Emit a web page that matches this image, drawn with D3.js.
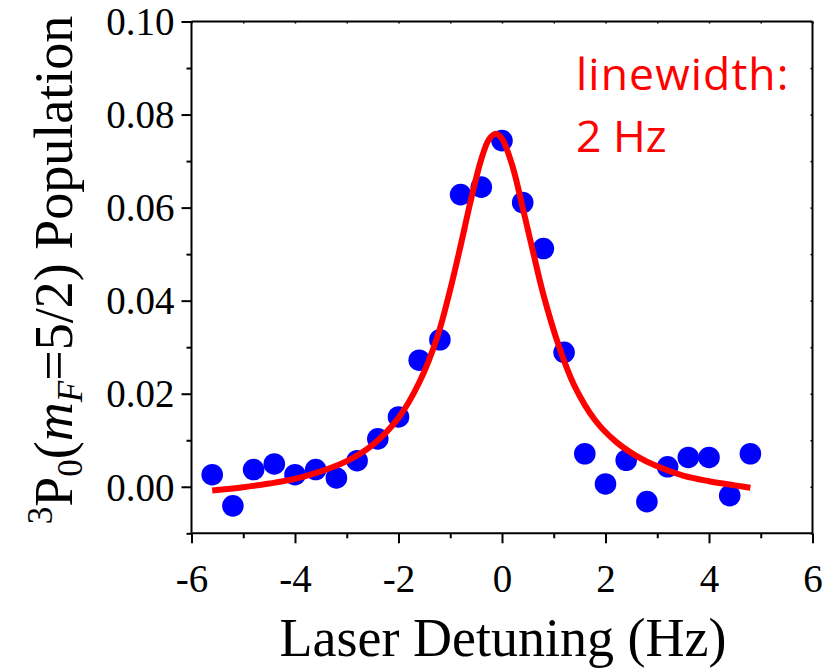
<!DOCTYPE html>
<html>
<head>
<meta charset="utf-8">
<script src="https://cdn.jsdelivr.net/npm/d3@7"></script>
<style>
  html, body { margin: 0; padding: 0; background: #fff; }
  svg { display: block; }
</style>
</head>
<body>
<svg id="chart" width="825" height="669"></svg>
<script>
// ---- Data ----
const detuning = [-5.6, -5.2, -4.8, -4.4, -4.0, -3.6, -3.2, -2.8, -2.4, -2.0, -1.6, -1.2, -0.8, -0.4, 0.0, 0.4, 0.8, 1.2, 1.6, 2.0, 2.4, 2.8, 3.2, 3.6, 4.0, 4.4, 4.8];
const population = [0.0026, -0.0041, 0.0037, 0.0049, 0.0026, 0.0037, 0.0019, 0.0056, 0.0103, 0.0150, 0.0272, 0.0316, 0.0628, 0.0644, 0.0744, 0.0611, 0.0512, 0.0289, 0.0071, 0.0006, 0.0057, -0.0032, 0.0043, 0.0063, 0.0063, -0.0019, 0.0071];

// Fitted curve
const fitX = [-5.6, -5.0, -4.5, -4.0, -3.5, -3.0, -2.5, -2.0, -1.6, -1.25, -1.0, -0.8, -0.6, -0.4, -0.25, -0.12, 0.0, 0.2, 0.4, 0.6, 0.8, 1.1, 1.4, 1.8, 2.2, 2.6, 3.0, 3.5, 4.0, 4.5, 4.8];
const fitY = [-0.0008, -0.0001, 0.0007, 0.0017, 0.0033, 0.0055, 0.0090, 0.0148, 0.0224, 0.0322, 0.0424, 0.0518, 0.0617, 0.0704, 0.0747, 0.0759, 0.0748, 0.0690, 0.0600, 0.0505, 0.0413, 0.0302, 0.0217, 0.0143, 0.0097, 0.0066, 0.0044, 0.0024, 0.0012, 0.0003, -0.0002];

const xTickValues = [-6, -4, -2, 0, 2, 4, 6];
const xTickLabels = ["-6", "-4", "-2", "0", "2", "4", "6"];
const xMinorTicks = [-5, -3, -1, 1, 3, 5];
const yTickValues = [0.00, 0.02, 0.04, 0.06, 0.08, 0.10];
const yTickLabels = ["0.00", "0.02", "0.04", "0.06", "0.08", "0.10"];
const yMinorTicks = [-0.01, 0.01, 0.03, 0.05, 0.07, 0.09];

const xTitle = "Laser Detuning (Hz)";
const annotationLines = ["linewidth:", "2 Hz"];

// ---- Layout ----
const svg = d3.select("#chart");
const pLeft = 191.5, pRight = 812.5, pTop = 21.5, pBottom = 533.3;

const x = d3.scaleLinear().domain([-6, 6]).range([pLeft, pRight]);
const y = d3.scaleLinear().domain([-0.01, 0.10]).range([pBottom, pTop]);

const serif = "'Liberation Serif', 'Times New Roman', serif";
const axisColor = "#000";

// ---- Data marks ----
const fitData = fitX.map((d, i) => [d, fitY[i]]);
const fitLine = d3.line().x(d => x(d[0])).y(d => y(d[1])).curve(d3.curveCatmullRom.alpha(0.5));

svg.append("g")
  .selectAll("circle")
  .data(detuning.map((d, i) => [d, population[i]]))
  .join("circle")
  .attr("cx", d => x(d[0]))
  .attr("cy", d => y(d[1]))
  .attr("r", 10.8)
  .attr("fill", "#0000ff");

svg.append("path")
  .datum(fitData)
  .attr("fill", "none")
  .attr("stroke", "#ff0000")
  .attr("stroke-width", 6)
  .attr("d", fitLine);

// ---- Axes ----
// bottom
const xAxis = d3.axisBottom(x).tickValues(xTickValues).tickSize(10).tickSizeOuter(0)
  .tickFormat((d, i) => xTickLabels[i]).tickPadding(10);
const gx = svg.append("g").attr("transform", `translate(0,${pBottom})`).call(xAxis);
gx.select(".domain").attr("stroke", axisColor).attr("stroke-width", 2).attr("d", `M${pLeft},0H${pRight}`);
gx.selectAll(".tick line").attr("stroke-width", 2);
gx.selectAll(".tick text").attr("font-family", serif).attr("font-size", 39).attr("fill", "#000").attr("dy", "0.98em");
const gxm = svg.append("g").attr("transform", `translate(0,${pBottom})`)
  .call(d3.axisBottom(x).tickValues(xMinorTicks).tickSize(5).tickFormat(""));
gxm.select(".domain").remove();
gxm.selectAll(".tick line").attr("stroke-width", 2);

// left
const yAxis = d3.axisLeft(y).tickValues(yTickValues).tickSize(10).tickSizeOuter(0)
  .tickFormat((d, i) => yTickLabels[i]).tickPadding(7);
const gy = svg.append("g").attr("transform", `translate(${pLeft},0)`).call(yAxis);
gy.select(".domain").attr("stroke", axisColor).attr("stroke-width", 2).attr("d", `M0,${pBottom}V${pTop}`);
gy.selectAll(".tick line").attr("stroke-width", 2);
gy.selectAll(".tick text").attr("font-family", serif).attr("font-size", 39).attr("fill", "#000").attr("dy", "0.34em");
const gym = svg.append("g").attr("transform", `translate(${pLeft},0)`)
  .call(d3.axisLeft(y).tickValues(yMinorTicks).tickSize(5).tickFormat(""));
gym.select(".domain").remove();
gym.selectAll(".tick line").attr("stroke-width", 2);

// top (small inward ticks)
const gt = svg.append("g").attr("transform", `translate(0,${pTop})`)
  .call(d3.axisTop(x).tickValues(xTickValues.concat(xMinorTicks)).tickSize(-2).tickSizeOuter(0).tickFormat(""));
gt.select(".domain").attr("stroke-width", 2).attr("d", `M${pLeft},0H${pRight}`);
gt.selectAll(".tick line").attr("stroke-width", 1.5);

// right (small inward ticks)
const gr = svg.append("g").attr("transform", `translate(${pRight},0)`)
  .call(d3.axisRight(y).tickValues(yTickValues.concat(yMinorTicks)).tickSize(-2).tickSizeOuter(0).tickFormat(""));
gr.select(".domain").attr("stroke-width", 2).attr("d", `M0,${pBottom}V${pTop}`);
gr.selectAll(".tick line").attr("stroke-width", 1.5);

// ---- Titles ----
svg.append("text")
  .attr("x", 503)
  .attr("y", 656)
  .attr("text-anchor", "middle")
  .attr("font-family", serif)
  .attr("font-size", 54)
  .attr("fill", "#000")
  .text(xTitle);

const yt = svg.append("text")
  .attr("transform", "translate(72,270) rotate(-90)")
  .attr("text-anchor", "middle")
  .attr("font-family", serif)
  .attr("font-size", 54)
  .attr("fill", "#000");
yt.append("tspan").attr("font-size", 35).attr("dy", -20).text("3");
yt.append("tspan").attr("dy", 20).text("P");
yt.append("tspan").attr("font-size", 35).attr("dy", 10).text("0");
yt.append("tspan").attr("dy", -10).text("(");
yt.append("tspan").attr("font-style", "italic").text("m");
yt.append("tspan").attr("font-style", "italic").attr("font-size", 35).attr("dy", 10).text("F");
yt.append("tspan").attr("dy", -10).text("=5/2) Population");

// ---- Annotation ----
const ann = svg.append("text")
  .attr("font-family", "'Open Sans', 'Noto Sans', sans-serif")
  .attr("font-size", 44.5)
  .attr("fill", "#ff0000");
ann.append("tspan").attr("x", 576).attr("y", 90).attr("letter-spacing", 1.1).text(annotationLines[0]);
ann.append("tspan").attr("x", 576).attr("y", 152).text(annotationLines[1]);
</script>
</body>
</html>
